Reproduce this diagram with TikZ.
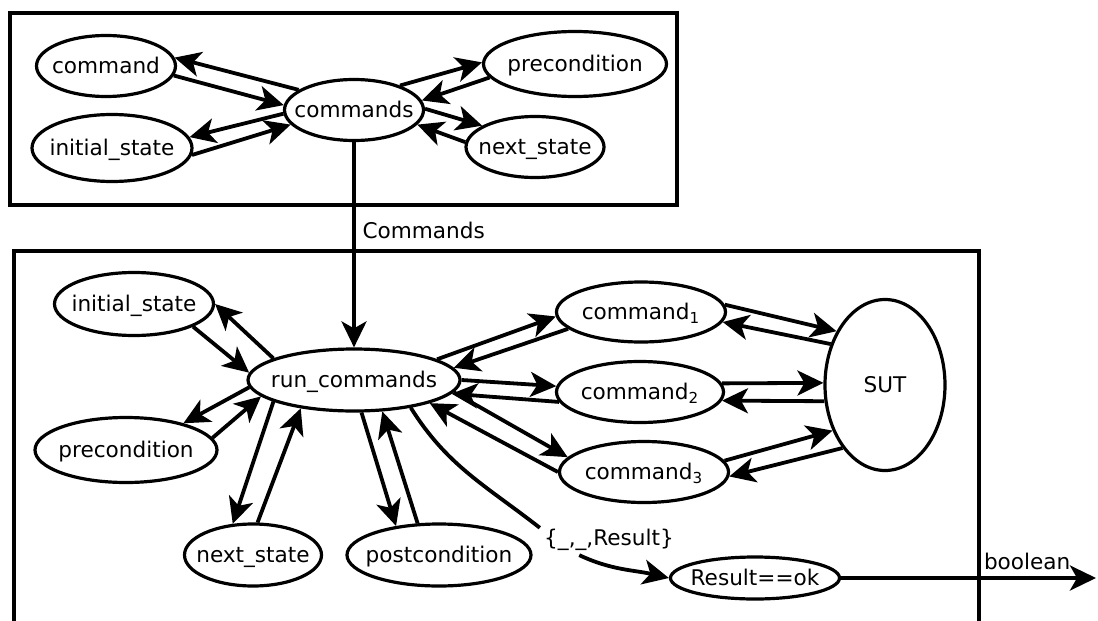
\documentclass[tikz,border=0pt]{standalone}
\usepackage{fontspec}
\setmainfont{DejaVu Sans}
\usetikzlibrary{shapes.geometric,arrows.meta}

\begin{document}
\begin{tikzpicture}[x=0.5pt,y=-0.5pt,
					every node/.style={font=\fontsize{10.8}{12}\selectfont},
					st/.style={draw,ellipse,line width=1.6pt,inner sep=0pt,
						text height=7.9pt,text depth=0pt,
						execute at begin node={\hbox to 0pt\bgroup\hss},
						execute at end node={\hss\egroup}},
					flow/.style={line width=1.9pt,-{Stealth[length=13pt,width=12.5pt,inset=3.5pt]}},
					box/.style={line width=2pt}]
					\useasboundingbox (0,0) rectangle (1098,621);
					\draw[box] (10,13) rectangle (677,205);
					\draw[box] (14,630) -- (14,251) -- (979,251) -- (979,630);

					\node[st,minimum width=69.5pt,minimum height=30.5pt] (command) at (106,66) {command};
					\node[st,minimum width=80pt,minimum height=33.5pt] (initstate) at (112,148) {initial\_state};
					\node[st,minimum width=69.5pt,minimum height=30.5pt] (commands) at (354,110) {commands};
					\node[st,minimum width=91.5pt,minimum height=32.5pt] (precond) at (575,64) {precondition};
					\node[st,minimum width=69pt,minimum height=30.5pt] (nextstate) at (535,147) {next\_state};

					\draw[flow] (commands.160) -- (command.7);
					\draw[flow] (command.-8) -- (commands.176);
					\draw[flow] (commands.183) -- (initstate.8);
					\draw[flow] (initstate.-5) -- (commands.193);
					\draw[flow] (commands.28) -- (precond.179);
					\draw[flow] (precond.189) -- (commands.8);
					\draw[flow] (commands.1) -- (nextstate.158);
					\draw[flow] (nextstate.176) -- (commands.-13);

					\node[st,minimum width=106pt,minimum height=31pt] (run) at (354,380) {run\_commands};
					\node[st,minimum width=79.5pt,minimum height=31.5pt] (rinit) at (134,304) {initial\_state};
					\node[st,minimum width=91pt,minimum height=32.5pt] (rprecond) at (126,450) {precondition};
					\node[st,minimum width=68.5pt,minimum height=31pt] (rnext) at (253,555) {next\_state};
					\node[st,minimum width=92pt,minimum height=31pt] (rpost) at (439,555) {postcondition};
					\node[st,minimum width=84.5pt,minimum height=30pt] (cmdone) at (641,312) {command\textsubscript{1}};
					\node[st,minimum width=83.5pt,minimum height=30.5pt] (cmdtwo) at (640,392) {command\textsubscript{2}};
					\node[st,minimum width=84.5pt,minimum height=30.5pt] (cmdthree) at (644,472) {command\textsubscript{3}};
					\node[st,minimum width=60pt,minimum height=85.5pt] (sut) at (885,385) {SUT};
					\node[st,minimum width=84.5pt,minimum height=21pt] (result) at (755,578) {Result==ok};
					\node[inner sep=2pt] (match) at (609,540) {\{\_,\_,Result\}};
					\coordinate (out) at (1096,578);

					\draw[flow] (commands) -- node[right,pos=.43] {Commands} (run);

					\draw[flow] (run.165) -- (rinit.0);
					\draw[flow] (rinit.-21) -- (run.176);
					\draw[flow] (run.184) -- (rprecond.25);
					\draw[flow] (rprecond.8) -- (run.190);
					\draw[flow] (run.195) -- (rnext.123);
					\draw[flow] (rnext.82) -- (run.208);
					\draw[flow] (run.-77) -- (rpost.146);
					\draw[flow] (rpost.124) -- (run.-48);

					\draw[flow] (run.14) -- (cmdone.183);
					\draw[flow] (cmdone.193) -- (run.7);
					\draw[flow] (run.-0.5) -- (cmdtwo.176);
					\draw[flow] (cmdtwo.187.5) -- (run.-8);
					\draw[flow] (run.-7) -- (cmdthree.169.5);
					\draw[flow] (cmdthree.180) -- (run.-17);

					\draw[flow] (cmdone.5) -- (sut.132);
					\draw[flow] (sut.143) -- (cmdone.-7);
					\draw[flow] (cmdtwo.6) -- (sut.178);
					\draw[flow] (sut.195) -- (cmdtwo.-6);
					\draw[flow] (cmdthree.8) -- (sut.221);
					\draw[flow] (sut.236) -- (cmdthree.-3);

					\draw[line width=1.9pt] (run.-26) to[out=-58,in=142] (match.170);
					\draw[flow] (match.207) to[out=-25,in=167] (result.west);
					\draw[flow] (result) -- node[above,pos=.73] {boolean} (out);
\end{tikzpicture}
\end{document}
